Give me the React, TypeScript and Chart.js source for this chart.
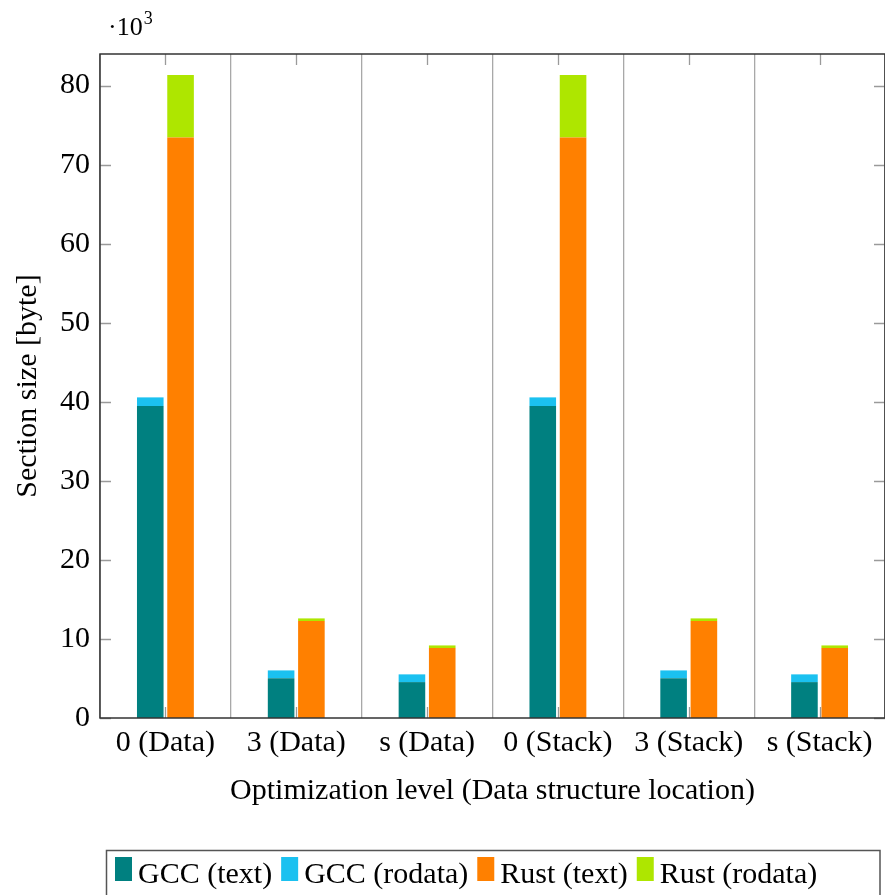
import React, { useEffect, useRef } from "react";
import { Chart, registerables } from "chart.js";

Chart.register(...registerables);

// Section sizes in bytes per optimization level / data structure location
const categories = ["0 (Data)", "3 (Data)", "s (Data)", "0 (Stack)", "3 (Stack)", "s (Stack)"];
const gccText = [39460, 5040, 4540, 39460, 5040, 4540];
const gccRodata = [1100, 980, 980, 1100, 980, 980];
const rustText = [73450, 12260, 8840, 73450, 12260, 8840];
const rustRodata = [7900, 340, 340, 7900, 340, 340];
const yTickValues = [0, 10000, 20000, 30000, 40000, 50000, 60000, 70000, 80000];

const seriesLabels = ["GCC (text)", "GCC (rodata)", "Rust (text)", "Rust (rodata)"];
const seriesColors = ["#008080", "#1bc1f0", "#ff8000", "#aee600"];

const FONT = '"Liberation Serif", "Times New Roman", serif';
const FONT_SIZE = 30;

const decorations = {
  id: "decorations",
  afterDatasetsDraw(chart: any) {
    const { ctx, chartArea: a, scales } = chart;
    const x = scales.x;
    const y = scales.y;
    ctx.save();
    // inward tick marks on all four sides
    ctx.strokeStyle = "#9a9a9a";
    ctx.lineWidth = 1.3;
    ctx.beginPath();
    for (const v of yTickValues) {
      const py = Math.round(y.getPixelForValue(v)) + 0.5;
      ctx.moveTo(a.left, py);
      ctx.lineTo(a.left + 11, py);
      ctx.moveTo(a.right - 11, py);
      ctx.lineTo(a.right, py);
    }
    categories.forEach((_, i) => {
      const px = Math.round(x.getPixelForValue(i)) + 0.5;
      ctx.moveTo(px, a.bottom);
      ctx.lineTo(px, a.bottom - 11);
      ctx.moveTo(px, a.top);
      ctx.lineTo(px, a.top + 11);
    });
    ctx.stroke();
    // axis frame
    ctx.strokeStyle = "#333333";
    ctx.lineWidth = 1.5;
    ctx.strokeRect(a.left, a.top, a.right - a.left, a.bottom - a.top);
    ctx.restore();
  },
  afterDraw(chart: any) {
    const { ctx, chartArea: a } = chart;
    ctx.save();
    ctx.fillStyle = "#000";

    // scale multiplier above the y axis
    ctx.textAlign = "left";
    ctx.textBaseline = "alphabetic";
    ctx.font = `26px ${FONT}`;
    ctx.fillText("\u00b710", 108, 35);
    const w = ctx.measureText("\u00b710").width;
    ctx.font = `18px ${FONT}`;
    ctx.fillText("3", 108 + w + 1, 24);

    // axis titles
    ctx.font = `${FONT_SIZE}px ${FONT}`;
    ctx.textAlign = "center";
    ctx.fillText("Optimization level (Data structure location)", (a.left + a.right) / 2, 799);
    ctx.save();
    ctx.translate(36, (a.top + a.bottom) / 2);
    ctx.rotate(-Math.PI / 2);
    ctx.fillText("Section size [byte]", 0, 0);
    ctx.restore();

    // legend
    const boxL = 106.5;
    const boxT = 850.5;
    const boxR = 880;
    ctx.strokeStyle = "#555";
    ctx.lineWidth = 1.5;
    ctx.strokeRect(boxL, boxT, boxR - boxL, 60);
    ctx.textAlign = "left";
    let cx = 115;
    chart.data.datasets.forEach((ds: any) => {
      ctx.fillStyle = ds.backgroundColor;
      ctx.fillRect(cx, 857, 17, 24);
      ctx.fillStyle = "#000";
      ctx.fillText(ds.label, cx + 23, 883);
      cx += 23 + ctx.measureText(ds.label).width + 9;
    });
    ctx.restore();
  },
};

export default function App() {
  const ref = useRef<HTMLCanvasElement | null>(null);

  useEffect(() => {
    document.body.style.margin = "0";
    const canvas = ref.current;
    if (!canvas) return;
    const stacks = ["gcc", "gcc", "rust", "rust"];
    const values = [gccText, gccRodata, rustText, rustRodata];
    const chart = new Chart(canvas, {
      type: "bar",
      data: {
        labels: categories,
        datasets: values.map((data, i) => ({
          label: seriesLabels[i],
          data,
          stack: stacks[i],
          backgroundColor: seriesColors[i],
          borderWidth: 0,
          categoryPercentage: 0.463,
          barPercentage: 0.878,
        })),
      },
      options: {
        animation: false,
        responsive: false,
        devicePixelRatio: 1,
        layout: { padding: { top: 54, left: 0, right: 0, bottom: 0 } },
        plugins: {
          legend: { display: false },
          tooltip: { enabled: false },
        },
        scales: {
          x: {
            type: "category",
            stacked: true,
            offset: true,
            grid: {
              display: true,
              offset: true,
              color: "#a8a8a8",
              lineWidth: 1.3,
              drawTicks: false,
            },
            border: { display: false },
            ticks: {
              color: "#000",
              padding: 7,
              maxRotation: 0,
              autoSkip: false,
              font: { family: FONT, size: FONT_SIZE },
            },
            afterFit: (s: any) => {
              s.height = 177;
            },
          },
          y: {
            type: "linear",
            stacked: true,
            min: 0,
            max: 84000,
            grid: { display: false, drawTicks: false },
            border: { display: false },
            ticks: {
              color: "#000",
              padding: 10,
              font: { family: FONT, size: FONT_SIZE },
              callback: (v: any) => String(Number(v) / 1000),
            },
            afterBuildTicks: (s: any) => {
              s.ticks = yTickValues.map((value) => ({ value }));
            },
            afterFit: (s: any) => {
              s.width = 100;
            },
          },
        },
      },
      plugins: [decorations],
    });
    return () => chart.destroy();
  }, []);

  return (
    <div style={{ position: "absolute", left: 0, top: 0, width: 885, height: 895 }}>
      <canvas ref={ref} width={885} height={895} style={{ display: "block" }} />
    </div>
  );
}
